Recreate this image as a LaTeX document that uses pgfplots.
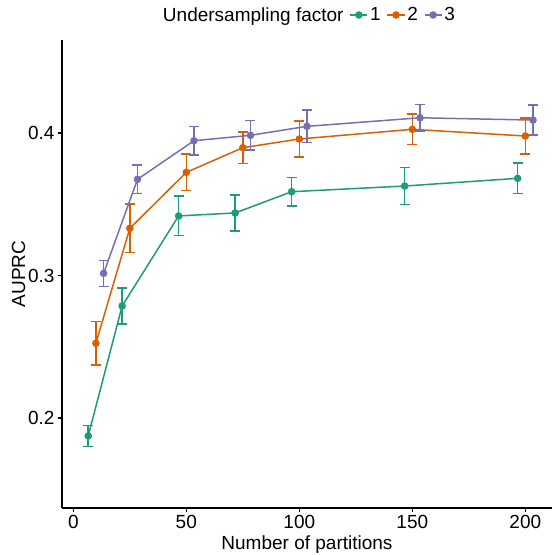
\documentclass[border=0pt]{standalone}
\usepackage{pgfplots}
\pgfplotsset{compat=1.18}
\usepackage{fontspec}
\setmainfont{Liberation Sans}
\definecolor{c1}{HTML}{1B9E77}
\definecolor{c2}{HTML}{D95F02}
\definecolor{c3}{HTML}{7570B3}
\begin{document}
\begin{tikzpicture}[font=\fontsize{19}{22}\selectfont]
\path[use as bounding box] (-62pt,-47pt) rectangle (493pt,508pt);
\begin{axis}[
  scale only axis, width=490pt, height=468pt,
  xmin=-5, xmax=211.8, ymin=0.1368, ymax=0.4653,
  axis x line*=bottom, axis y line*=left,
  axis line style={-, line width=1.1pt, black},
  xtick={0,50,100,150,200}, ytick={0.2,0.3,0.4},
  yticklabel style={/pgf/number format/fixed, /pgf/number format/precision=1},
  /pgf/number format/assume math mode=true,
  tick align=outside, major tick length=4pt,
  tick style={line width=1.1pt, black},
  xlabel={Number of partitions}, ylabel={AUPRC},
  ylabel style={yshift=-4pt},
  clip=false,
  legend columns=4,
  legend style={draw=none, fill=none, at={(0.5,1)}, anchor=center, yshift=25pt, xshift=2pt,
    font=\fontsize{19}{22}\selectfont,
    /tikz/every even column/.append style={column sep=4pt}},
]
\addlegendimage{empty legend}
\addlegendentry{Undersampling factor}
\addplot[c1, line width=1.5pt, mark=*, mark size=3pt,
  error bars/.cd, y dir=both, y explicit,
  error bar style={line width=1.5pt, c1},
  error mark options={rotate=90, mark size=5pt, line width=1.5pt, c1}]
  table[x=x, y=y, y error=e] {
x y e
6.6 0.1874 0.0073
21.6 0.2786 0.0127
46.6 0.3418 0.0139
71.6 0.3439 0.0126
96.6 0.3588 0.0100
146.6 0.3628 0.0131
196.6 0.3682 0.0107
};
\addlegendentry{1}
\addplot[c2, line width=1.5pt, mark=*, mark size=3pt,
  error bars/.cd, y dir=both, y explicit,
  error bar style={line width=1.5pt, c2},
  error mark options={rotate=90, mark size=5pt, line width=1.5pt, c2}]
  table[x=x, y=y, y error=e] {
x y e
10 0.2524 0.0152
25 0.3331 0.0170
50 0.3724 0.0128
75 0.3897 0.0111
100 0.3958 0.0126
150 0.4026 0.0108
200 0.3979 0.0126
};
\addlegendentry{2}
\addplot[c3, line width=1.5pt, mark=*, mark size=3pt,
  error bars/.cd, y dir=both, y explicit,
  error bar style={line width=1.5pt, c3},
  error mark options={rotate=90, mark size=5pt, line width=1.5pt, c3}]
  table[x=x, y=y, y error=e] {
x y e
13.4 0.3015 0.0091
28.4 0.3675 0.0099
53.4 0.3946 0.0101
78.4 0.3984 0.0103
103.4 0.4047 0.0113
153.4 0.4107 0.0092
203.4 0.4091 0.0104
};
\addlegendentry{3}
\end{axis}
\end{tikzpicture}
\end{document}
